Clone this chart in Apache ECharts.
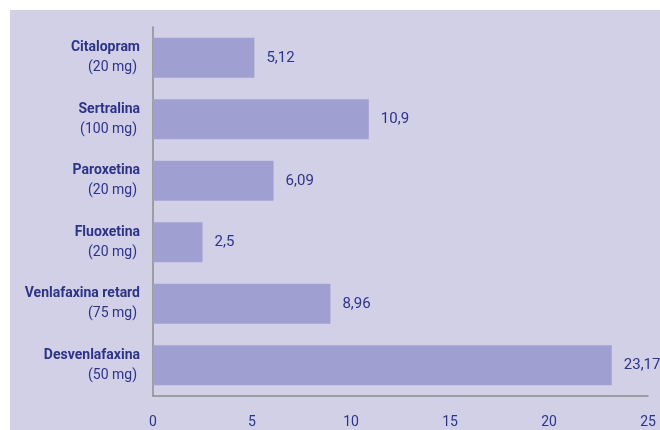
<!DOCTYPE html>
<html>
<head>
<meta charset="utf-8">
<script src="https://cdn.jsdelivr.net/npm/echarts@6/dist/echarts.min.js"></script>
<style>
html,body{margin:0;padding:0;background:#ffffff;}
#chart{width:660px;height:430px;}
</style>
</head>
<body>
<div id="chart"></div>
<script>
var drugNames = ['Citalopram', 'Sertralina', 'Paroxetina', 'Fluoxetina', 'Venlafaxina retard', 'Desvenlafaxina'];
var doses = ['(20 mg)', '(100 mg)', '(20 mg)', '(20 mg)', '(75 mg)', '(50 mg)'];
var values = [5.12, 10.9, 6.09, 2.5, 8.96, 23.17];
var xTicks = [0, 5, 10, 15, 20, 25];

var FONT = "Roboto, 'Liberation Sans', sans-serif";
var NAVY = '#2c3388';

var categories = drugNames.map(function (n, i) { return n + '|' + doses[i]; });

var chart = echarts.init(document.getElementById('chart'));
chart.setOption({
  backgroundColor: '#ffffff',
  animation: false,
  graphic: [{
    type: 'rect',
    z: -10,
    shape: { x: 10, y: 10, width: 650, height: 420 },
    style: { fill: '#d2d0e7' }
  }],
  grid: { left: 153, right: 12, top: 27, bottom: 34, containLabel: false, outerBoundsMode: 'none' },
  xAxis: {
    type: 'value',
    min: xTicks[0],
    max: xTicks[xTicks.length - 1],
    interval: xTicks[1] - xTicks[0],
    axisLine: { show: true, lineStyle: { color: '#8c8c8c', width: 1.5 } },
    axisTick: { show: false },
    splitLine: { show: false },
    axisLabel: {
      margin: 19,
      color: NAVY,
      fontFamily: FONT,
      fontSize: 14,
      formatter: function (v) { return String(v); }
    }
  },
  yAxis: {
    type: 'category',
    inverse: true,
    data: categories,
    axisLine: { show: true, lineStyle: { color: '#8c8c8c', width: 1.5 } },
    axisTick: { show: false },
    axisLabel: {
      margin: 13,
      align: 'right',
      formatter: function (v) {
        var p = v.split('|');
        return '{n|' + p[0] + '}\n{d|' + p[1] + '}';
      },
      rich: {
        n: { fontFamily: FONT, fontWeight: 'bold', fontSize: 14, color: NAVY, lineHeight: 20, align: 'right' },
        d: { fontFamily: FONT, fontSize: 14, color: NAVY, lineHeight: 20, align: 'right', padding: [0, 3, 0, 0] }
      }
    }
  },
  series: [{
    type: 'bar',
    data: values,
    barWidth: 40,
    itemStyle: { color: '#a09fd2' },
    label: {
      show: true,
      position: 'right',
      distance: 12,
      color: NAVY,
      fontFamily: FONT,
      fontSize: 15,
      formatter: function (p) { return String(p.value).replace('.', ','); }
    }
  }]
});
</script>
</body>
</html>
